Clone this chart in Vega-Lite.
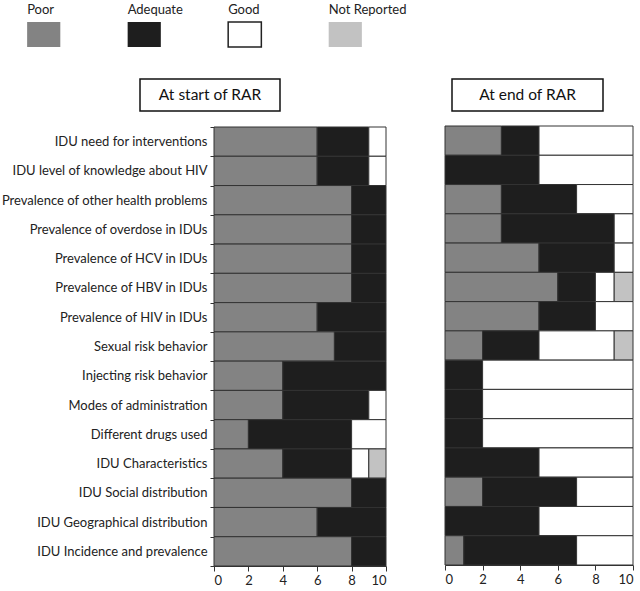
{
  "$schema": "https://vega.github.io/schema/vega-lite/v6.json",
  "padding": {"top": 3, "left": 0, "right": 0, "bottom": 0},
  "background": "white",
  "config": {
    "view": {"stroke": null},
    "font": "Lato",
    "axis": {"labelFont": "Lato", "labelFontSize": 13, "labelColor": "#222", "domainColor": "#333", "tickColor": "#333", "grid": false, "title": null}
  },
  "datasets": {
    "legend": [
      {"rating": "Poor", "rank": 1}, {"rating": "Adequate", "rank": 2}, {"rating": "Good", "rank": 3}, {"rating": "Not Reported", "rank": 4}
    ],
    "start": [
      {"indicator": "IDU need for interventions", "rating": "Poor", "count": 6},
      {"indicator": "IDU need for interventions", "rating": "Adequate", "count": 3},
      {"indicator": "IDU need for interventions", "rating": "Good", "count": 1},
      {"indicator": "IDU level of knowledge about HIV", "rating": "Poor", "count": 6},
      {"indicator": "IDU level of knowledge about HIV", "rating": "Adequate", "count": 3},
      {"indicator": "IDU level of knowledge about HIV", "rating": "Good", "count": 1},
      {"indicator": "Prevalence of other health problems", "rating": "Poor", "count": 8},
      {"indicator": "Prevalence of other health problems", "rating": "Adequate", "count": 2},
      {"indicator": "Prevalence of overdose in IDUs", "rating": "Poor", "count": 8},
      {"indicator": "Prevalence of overdose in IDUs", "rating": "Adequate", "count": 2},
      {"indicator": "Prevalence of HCV in IDUs", "rating": "Poor", "count": 8},
      {"indicator": "Prevalence of HCV in IDUs", "rating": "Adequate", "count": 2},
      {"indicator": "Prevalence of HBV in IDUs", "rating": "Poor", "count": 8},
      {"indicator": "Prevalence of HBV in IDUs", "rating": "Adequate", "count": 2},
      {"indicator": "Prevalence of HIV in IDUs", "rating": "Poor", "count": 6},
      {"indicator": "Prevalence of HIV in IDUs", "rating": "Adequate", "count": 4},
      {"indicator": "Sexual risk behavior", "rating": "Poor", "count": 7},
      {"indicator": "Sexual risk behavior", "rating": "Adequate", "count": 3},
      {"indicator": "Injecting risk behavior", "rating": "Poor", "count": 4},
      {"indicator": "Injecting risk behavior", "rating": "Adequate", "count": 6},
      {"indicator": "Modes of administration", "rating": "Poor", "count": 4},
      {"indicator": "Modes of administration", "rating": "Adequate", "count": 5},
      {"indicator": "Modes of administration", "rating": "Good", "count": 1},
      {"indicator": "Different drugs used", "rating": "Poor", "count": 2},
      {"indicator": "Different drugs used", "rating": "Adequate", "count": 6},
      {"indicator": "Different drugs used", "rating": "Good", "count": 2},
      {"indicator": "IDU Characteristics", "rating": "Poor", "count": 4},
      {"indicator": "IDU Characteristics", "rating": "Adequate", "count": 4},
      {"indicator": "IDU Characteristics", "rating": "Good", "count": 1},
      {"indicator": "IDU Characteristics", "rating": "Not Reported", "count": 1},
      {"indicator": "IDU Social distribution", "rating": "Poor", "count": 8},
      {"indicator": "IDU Social distribution", "rating": "Adequate", "count": 2},
      {"indicator": "IDU Geographical distribution", "rating": "Poor", "count": 6},
      {"indicator": "IDU Geographical distribution", "rating": "Adequate", "count": 4},
      {"indicator": "IDU Incidence and prevalence", "rating": "Poor", "count": 8},
      {"indicator": "IDU Incidence and prevalence", "rating": "Adequate", "count": 2}
    ],
    "end": [
      {"indicator": "IDU need for interventions", "rating": "Poor", "count": 3},
      {"indicator": "IDU need for interventions", "rating": "Adequate", "count": 2},
      {"indicator": "IDU need for interventions", "rating": "Good", "count": 5},
      {"indicator": "IDU level of knowledge about HIV", "rating": "Adequate", "count": 5},
      {"indicator": "IDU level of knowledge about HIV", "rating": "Good", "count": 5},
      {"indicator": "Prevalence of other health problems", "rating": "Poor", "count": 3},
      {"indicator": "Prevalence of other health problems", "rating": "Adequate", "count": 4},
      {"indicator": "Prevalence of other health problems", "rating": "Good", "count": 3},
      {"indicator": "Prevalence of overdose in IDUs", "rating": "Poor", "count": 3},
      {"indicator": "Prevalence of overdose in IDUs", "rating": "Adequate", "count": 6},
      {"indicator": "Prevalence of overdose in IDUs", "rating": "Good", "count": 1},
      {"indicator": "Prevalence of HCV in IDUs", "rating": "Poor", "count": 5},
      {"indicator": "Prevalence of HCV in IDUs", "rating": "Adequate", "count": 4},
      {"indicator": "Prevalence of HCV in IDUs", "rating": "Good", "count": 1},
      {"indicator": "Prevalence of HBV in IDUs", "rating": "Poor", "count": 6},
      {"indicator": "Prevalence of HBV in IDUs", "rating": "Adequate", "count": 2},
      {"indicator": "Prevalence of HBV in IDUs", "rating": "Good", "count": 1},
      {"indicator": "Prevalence of HBV in IDUs", "rating": "Not Reported", "count": 1},
      {"indicator": "Prevalence of HIV in IDUs", "rating": "Poor", "count": 5},
      {"indicator": "Prevalence of HIV in IDUs", "rating": "Adequate", "count": 3},
      {"indicator": "Prevalence of HIV in IDUs", "rating": "Good", "count": 2},
      {"indicator": "Sexual risk behavior", "rating": "Poor", "count": 2},
      {"indicator": "Sexual risk behavior", "rating": "Adequate", "count": 3},
      {"indicator": "Sexual risk behavior", "rating": "Good", "count": 4},
      {"indicator": "Sexual risk behavior", "rating": "Not Reported", "count": 1},
      {"indicator": "Injecting risk behavior", "rating": "Adequate", "count": 2},
      {"indicator": "Injecting risk behavior", "rating": "Good", "count": 8},
      {"indicator": "Modes of administration", "rating": "Adequate", "count": 2},
      {"indicator": "Modes of administration", "rating": "Good", "count": 8},
      {"indicator": "Different drugs used", "rating": "Adequate", "count": 2},
      {"indicator": "Different drugs used", "rating": "Good", "count": 8},
      {"indicator": "IDU Characteristics", "rating": "Adequate", "count": 5},
      {"indicator": "IDU Characteristics", "rating": "Good", "count": 5},
      {"indicator": "IDU Social distribution", "rating": "Poor", "count": 2},
      {"indicator": "IDU Social distribution", "rating": "Adequate", "count": 5},
      {"indicator": "IDU Social distribution", "rating": "Good", "count": 3},
      {"indicator": "IDU Geographical distribution", "rating": "Adequate", "count": 5},
      {"indicator": "IDU Geographical distribution", "rating": "Good", "count": 5},
      {"indicator": "IDU Incidence and prevalence", "rating": "Poor", "count": 1},
      {"indicator": "IDU Incidence and prevalence", "rating": "Adequate", "count": 6},
      {"indicator": "IDU Incidence and prevalence", "rating": "Good", "count": 3}
    ]
  },
  "spacing": 30,
  "vconcat": [
    {
      "width": 150,
      "height": 25,
      "data": {"name": "legend"},
      "encoding": {
        "x": {"field": "rating", "type": "nominal", "sort": ["Poor", "Adequate", "Good", "Not Reported"], "axis": null, "scale": {"range": [-213, 174], "paddingInner": 0.67, "paddingOuter": 0.26}}
      },
      "layer": [
        {
          "mark": {"type": "bar", "strokeWidth": 1.5},
          "encoding": {
            "color": {"field": "rating", "type": "nominal", "legend": null, "sort": ["Poor", "Adequate", "Good", "Not Reported"], "scale": {"domain": ["Poor", "Adequate", "Good", "Not Reported"], "range": ["#838383", "#1e1e1e", "#ffffff", "#c2c2c2"]}},
            "stroke": {"condition": {"test": "datum.rating === 'Good'", "value": "#222222"}, "value": null}
          }
        },
        {
          "mark": {"type": "text", "align": "left", "baseline": "middle", "dy": -25, "font": "Lato", "fontSize": 13, "color": "#222"},
          "encoding": {
            "x": {"field": "rating", "type": "nominal", "sort": ["Poor", "Adequate", "Good", "Not Reported"], "bandPosition": 0},
            "text": {"field": "rating"}
          }
        }
      ]
    },
    {
      "spacing": 57,
      "hconcat": [
        {
          "spacing": 9,
          "vconcat": [
            {
              "width": 172,
              "height": 32,
              "data": {"values": [{"label": "At start of RAR"}]},
              "layer": [
                {
                  "mark": {"type": "rect", "fill": null, "stroke": "#111", "strokeWidth": 1.5},
                  "encoding": {
                    "x": {"datum": 0, "type": "quantitative", "scale": {"domain": [0, 1], "range": [-74, 66]}, "axis": null},
                    "x2": {"datum": 1}
                  }
                },
                {
                  "mark": {"type": "text", "font": "Lato", "fontSize": 15.5, "color": "#111"},
                  "encoding": {
                    "x": {"datum": 0.5, "type": "quantitative"},
                    "text": {"field": "label"}
                  }
                }
              ]
            },
            {
              "width": 172,
              "height": 439,
              "data": {"name": "start"},
              "transform": [{"lookup": "rating", "from": {"data": {"name": "legend"}, "key": "rating", "fields": ["rank"]}}],
              "mark": {"type": "bar", "stroke": "#333", "strokeWidth": 1},
              "encoding": {
                "y": {"field": "indicator", "type": "nominal", "sort": ["IDU need for interventions", "IDU level of knowledge about HIV", "Prevalence of other health problems", "Prevalence of overdose in IDUs", "Prevalence of HCV in IDUs", "Prevalence of HBV in IDUs", "Prevalence of HIV in IDUs", "Sexual risk behavior", "Injecting risk behavior", "Modes of administration", "Different drugs used", "IDU Characteristics", "IDU Social distribution", "IDU Geographical distribution", "IDU Incidence and prevalence"], "scale": {"paddingInner": 0, "paddingOuter": 0}, "axis": {"tickBand": "extent", "tickSize": 4, "labelPadding": 3, "labelLimit": 300}},
                "x": {"field": "count", "type": "quantitative", "stack": "zero", "scale": {"domain": [0, 10], "nice": false}, "axis": {"values": [0, 2, 4, 6, 8, 10], "tickSize": 5, "labelPadding": 3}},
                "color": {"field": "rating", "type": "nominal", "legend": null, "sort": ["Poor", "Adequate", "Good", "Not Reported"], "scale": {"domain": ["Poor", "Adequate", "Good", "Not Reported"], "range": ["#838383", "#1e1e1e", "#ffffff", "#c2c2c2"]}},
                "order": {"field": "rank", "type": "quantitative"}
              }
            }
          ]
        },
        {
          "spacing": 13,
          "vconcat": [
            {
              "width": 188,
              "height": 32,
              "data": {"values": [{"label": "At end of RAR"}]},
              "layer": [
                {
                  "mark": {"type": "rect", "fill": null, "stroke": "#111", "strokeWidth": 1.5},
                  "encoding": {
                    "x": {"datum": 0, "type": "quantitative", "scale": {"domain": [0, 1], "range": [7, 158]}, "axis": null},
                    "x2": {"datum": 1}
                  }
                },
                {
                  "mark": {"type": "text", "font": "Lato", "fontSize": 15.5, "color": "#111"},
                  "encoding": {
                    "x": {"datum": 0.5, "type": "quantitative"},
                    "text": {"field": "label"}
                  }
                }
              ]
            },
            {
              "width": 188,
              "height": 439,
              "data": {"name": "end"},
              "transform": [{"lookup": "rating", "from": {"data": {"name": "legend"}, "key": "rating", "fields": ["rank"]}}],
              "mark": {"type": "bar", "stroke": "#333", "strokeWidth": 1},
              "encoding": {
                "y": {"field": "indicator", "type": "nominal", "sort": ["IDU need for interventions", "IDU level of knowledge about HIV", "Prevalence of other health problems", "Prevalence of overdose in IDUs", "Prevalence of HCV in IDUs", "Prevalence of HBV in IDUs", "Prevalence of HIV in IDUs", "Sexual risk behavior", "Injecting risk behavior", "Modes of administration", "Different drugs used", "IDU Characteristics", "IDU Social distribution", "IDU Geographical distribution", "IDU Incidence and prevalence"], "scale": {"paddingInner": 0, "paddingOuter": 0}, "axis": null},
                "x": {"field": "count", "type": "quantitative", "stack": "zero", "scale": {"domain": [0, 10], "nice": false}, "axis": {"values": [0, 2, 4, 6, 8, 10], "tickSize": 5, "labelPadding": 3}},
                "color": {"field": "rating", "type": "nominal", "legend": null, "sort": ["Poor", "Adequate", "Good", "Not Reported"], "scale": {"domain": ["Poor", "Adequate", "Good", "Not Reported"], "range": ["#838383", "#1e1e1e", "#ffffff", "#c2c2c2"]}},
                "order": {"field": "rank", "type": "quantitative"}
              }
            }
          ]
        }
      ]
    }
  ]
}
